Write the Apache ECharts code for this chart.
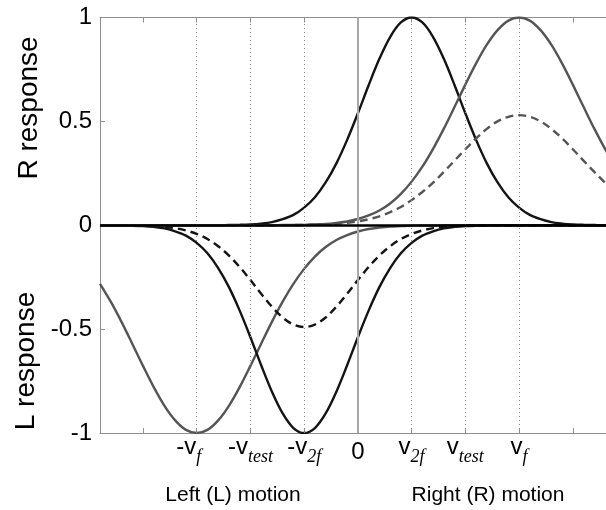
<!DOCTYPE html>
<html>
<head>
<meta charset="utf-8">
<script src="https://cdn.jsdelivr.net/npm/echarts@6/dist/echarts.min.js"></script>
<style>
  html, body { margin: 0; padding: 0; background: #fff; }
  #chart { width: 606px; height: 510px; }
</style>
</head>
<body>
<div id="chart"></div>
<script>
// Stimulus velocity (units of v2f), sampled every 0.2
const velocity = [-4.8,-4.6,-4.4,-4.2,-4.0,-3.8,-3.6,-3.4,-3.2,-3.0,-2.8,-2.6,-2.4,-2.2,-2.0,-1.8,-1.6,-1.4,-1.2,-1.0,-0.8,-0.6,-0.4,-0.2,0,0.2,0.4,0.6,0.8,1.0,1.2,1.4,1.6,1.8,2.0,2.2,2.4,2.6,2.8,3.0,3.2,3.4,3.6,3.8,4.0,4.2,4.4,4.6,4.8];

// R-detector responses
const rightTuned2f = [0,0,0,0,0,0,0,0,0,0,0,0,0.001,0.002,0.004,0.008,0.015,0.029,0.050,0.085,0.135,0.206,0.298,0.411,0.539,0.674,0.801,0.906,0.976,1,0.976,0.906,0.801,0.674,0.539,0.411,0.298,0.206,0.135,0.085,0.050,0.029,0.015,0.008,0.004,0.002,0.001,0,0];
const rightTunedF = [0,0,0,0,0,0,0,0,0,0,0,0,0,0,0,0,0,0.001,0.001,0.002,0.004,0.006,0.011,0.018,0.030,0.047,0.071,0.105,0.151,0.210,0.282,0.368,0.465,0.570,0.677,0.779,0.869,0.939,0.985,1,0.985,0.939,0.869,0.779,0.677,0.570,0.465,0.368,0.282];
const rightTest = [0,0,0,0,0,0,0,0,0,0,0,0,0,0,0,0,0,0,0.001,0.001,0.003,0.004,0.007,0.012,0.019,0.029,0.043,0.063,0.088,0.121,0.160,0.205,0.257,0.311,0.366,0.418,0.464,0.500,0.522,0.530,0.522,0.500,0.464,0.418,0.366,0.311,0.257,0.205,0.160];

// L-detector responses (plotted downward)
const leftTuned2f = [0,0,-0.001,-0.002,-0.004,-0.008,-0.015,-0.029,-0.050,-0.085,-0.135,-0.206,-0.298,-0.411,-0.539,-0.674,-0.801,-0.906,-0.976,-1,-0.976,-0.906,-0.801,-0.674,-0.539,-0.411,-0.298,-0.206,-0.135,-0.085,-0.050,-0.029,-0.015,-0.008,-0.004,-0.002,-0.001,0,0,0,0,0,0,0,0,0,0,0,0];
const leftTunedF = [-0.282,-0.368,-0.465,-0.570,-0.677,-0.779,-0.869,-0.939,-0.985,-1,-0.985,-0.939,-0.869,-0.779,-0.677,-0.570,-0.465,-0.368,-0.282,-0.210,-0.151,-0.105,-0.071,-0.047,-0.030,-0.018,-0.011,-0.006,-0.004,-0.002,-0.001,-0.001,0,0,0,0,0,0,0,0,0,0,0,0,0,0,0,0,0];
const leftTest = [0,0,0,-0.001,-0.002,-0.004,-0.008,-0.014,-0.025,-0.042,-0.066,-0.101,-0.146,-0.201,-0.264,-0.330,-0.392,-0.444,-0.478,-0.490,-0.478,-0.444,-0.392,-0.330,-0.264,-0.201,-0.146,-0.101,-0.066,-0.042,-0.025,-0.014,-0.008,-0.004,-0.002,-0.001,0,0,0,0,0,0,0,0,0,0,0,0,0];

// Axis ticks and labels
const tickValues = [-3,-2,-1,0,1,2,3];
const tickMain = ['-v','-v','-v','0','v','v','v'];
const tickSub = ['f','test','2f','','2f','test','f'];
const tickMarks = [-4,-3,-2,-1,0,1,2,3,4];
const guideValues = [-3,-2,-1,1,2,3];

const AXIS_GRAY = '#8f8f8f';
const DARK = '#141414';
const MID = '#555555';

function pairs(ys) { return velocity.map((x, i) => [x, ys[i]]); }

function curve(name, ys, color, dashed, extra) {
  return Object.assign({
    name: name,
    type: 'line',
    data: pairs(ys),
    showSymbol: false,
    smooth: 0.35,
    clip: true,
    silent: true,
    lineStyle: { color: color, width: 2.4, type: dashed ? [8, 5] : 'solid' },
    z: 3
  }, extra || {});
}

const chart = echarts.init(document.getElementById('chart'), null, { renderer: 'canvas', width: 606, height: 510 });

const tickLabelFormatter = (val) => {
  const i = tickValues.indexOf(Math.round(val * 1000) / 1000);
  if (i < 0) return '';
  if (!tickSub[i]) return '{n|' + tickMain[i] + '}';
  const subStyle = (tickMain[i] === '-v' && tickSub[i] === 'f') ? 'sf' : 's';
  return '{v|' + tickMain[i] + '}{' + subStyle + '|' + tickSub[i] + '}';
};

chart.setOption({
  animation: false,
  backgroundColor: '#fff',
  grid: { left: 100, right: 0, top: 17.5, bottom: 77, containLabel: false },
  xAxis: [
    {
      type: 'value', position: 'bottom', min: -4.8, max: 4.618,
      axisLine: { show: true, onZero: false, lineStyle: { color: AXIS_GRAY, width: 1 } },
      axisTick: { show: true, inside: true, length: 5, customValues: tickMarks, lineStyle: { color: AXIS_GRAY } },
      splitLine: { show: false },
      axisLabel: {
        show: true, customValues: tickValues, margin: 2, color: '#000',
        lineHeight: 34,
        formatter: tickLabelFormatter,
        rich: {
          n: { fontSize: 24, fontFamily: 'Liberation Sans', color: '#000' },
          v: { fontSize: 24, fontFamily: 'Liberation Sans', color: '#000', padding: [0, 0, 10, 0] },
          s: { fontSize: 18, fontFamily: 'Liberation Serif', fontStyle: 'italic', color: '#000', padding: [10, 0, 0, 0] },
          sf: { fontSize: 18, fontFamily: 'Liberation Serif', fontStyle: 'italic', color: '#000', padding: [10, 16, 0, 0] }
        }
      }
    },
    {
      type: 'value', position: 'top', min: -4.8, max: 4.618,
      axisLine: { show: true, onZero: false, lineStyle: { color: AXIS_GRAY, width: 1 } },
      axisTick: { show: true, inside: true, length: 5, customValues: tickMarks, lineStyle: { color: AXIS_GRAY } },
      axisLabel: { show: false },
      splitLine: { show: false }
    }
  ],
  yAxis: {
    type: 'value', min: -1, max: 1, interval: 0.5,
    axisLine: { show: true, onZero: false, lineStyle: { color: AXIS_GRAY, width: 1 } },
    axisTick: { show: true, inside: true, length: 5, lineStyle: { color: AXIS_GRAY } },
    splitLine: { show: false },
    axisLabel: { show: true, margin: 8, fontSize: 24, fontFamily: 'Liberation Sans', color: '#000', showMinLabel: true, showMaxLabel: true }
  },
  graphic: [
    { type: 'text', x: 29, y: 108, rotation: Math.PI / 2,
      style: { text: 'R response', fontSize: 28, fontFamily: 'Liberation Sans', fill: '#000', textAlign: 'center', textVerticalAlign: 'middle' } },
    { type: 'text', x: 26, y: 361, rotation: Math.PI / 2,
      style: { text: 'L response', fontSize: 28, fontFamily: 'Liberation Sans', fill: '#000', textAlign: 'center', textVerticalAlign: 'middle' } },
    { type: 'text', x: 233, y: 495,
      style: { text: 'Left (L) motion', fontSize: 21, fontFamily: 'Liberation Sans', fill: '#000', textAlign: 'center', textVerticalAlign: 'middle' } },
    { type: 'text', x: 488, y: 495,
      style: { text: 'Right (R) motion', fontSize: 21, fontFamily: 'Liberation Sans', fill: '#000', textAlign: 'center', textVerticalAlign: 'middle' } }
  ],
  series: [
    curve('L tuned to vf', leftTunedF, MID, false, {
      markLine: {
        silent: true, symbol: 'none', label: { show: false }, animation: false,
        data: guideValues.map(v => ({ xAxis: v, lineStyle: { color: '#8a8a8a', width: 1, type: [1, 3] } }))
          .concat([{ xAxis: 0, lineStyle: { color: '#a8a8a8', width: 2, type: 'solid' } }])
      }
    }),
    curve('L tuned to v2f', leftTuned2f, DARK, false),
    curve('L test', leftTest, DARK, true),
    curve('R tuned to v2f', rightTuned2f, DARK, false),
    curve('R tuned to vf', rightTunedF, MID, false),
    curve('R test', rightTest, MID, true, {
      markLine: {
        silent: true, symbol: 'none', label: { show: false }, animation: false,
        data: [{ yAxis: 0, lineStyle: { color: '#000', width: 2.6, type: 'solid' } }]
      }
    })
  ]
});
</script>
</body>
</html>
